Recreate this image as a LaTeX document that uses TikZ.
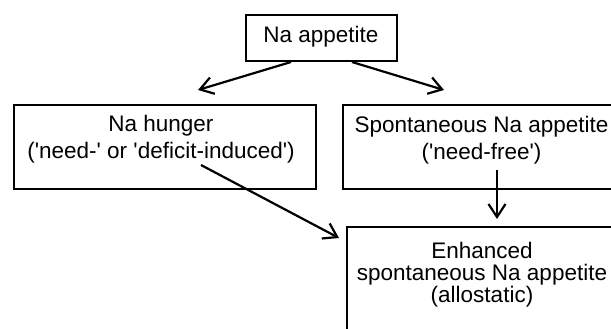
\documentclass[tikz,border=0pt]{standalone}
\usepackage{fontspec}
\setmainfont{Liberation Sans}
\usetikzlibrary{arrows.meta}
\newcommand{\sq}{\textquotesingle}
\begin{document}
\begin{tikzpicture}[x=1pt,y=-1pt,
  box/.style={draw, line width=2pt, inner sep=0pt, anchor=north west},
  lbl/.style={font=\fontsize{22.5}{27}\selectfont, align=center, inner sep=0pt},
  lbltight/.style={font=\fontsize{22.5}{22}\selectfont, align=center, inner sep=0pt},
  arr/.style={line width=2.2pt, -{Straight Barb[length=13pt,width=17pt,line width=2.2pt]}}]
\useasboundingbox (0,0) rectangle (611,329);
\clip (0,0) rectangle (611,329);
% boxes
\node[box, minimum width=151pt, minimum height=46pt] (top) at (245,14) {};
\node[box, minimum width=302pt, minimum height=84pt] (hunger) at (13,104) {};
\node[box, minimum width=280pt, minimum height=84pt] (spont) at (342,104) {};
\node[box, minimum width=274pt, minimum height=130pt] (enh) at (346,226) {};
% texts
\node[lbl] (ttop) at (321,37) {Na appetite};
\node[lbl] (thunger) at (161,139) {Na hunger\\(\sq need-\sq{} or \sq deficit-induced\sq)};
\node[lbl] (tspont) at (481.5,140) {Spontaneous Na appetite\\(\sq need-free\sq)};
\node[lbltight] (tenh) at (482,275) {Enhanced\\spontaneous Na appetite\\(allostatic)};
% arrow end points
\coordinate (l1) at (198,90);
\coordinate (r1) at (444,90);
\coordinate (d1) at (201,165);
\coordinate (d2) at (339,238);
\coordinate (v1) at (497,170);
\coordinate (v2) at (497,219);
% connectors
\draw[arr] ([xshift=-30.5pt]top.south) -- (l1);
\draw[arr] ([xshift=30.5pt]top.south) -- (r1);
\draw[arr] (d1) -- (d2);
\draw[arr] (v1) -- (v2);
\end{tikzpicture}
\end{document}
